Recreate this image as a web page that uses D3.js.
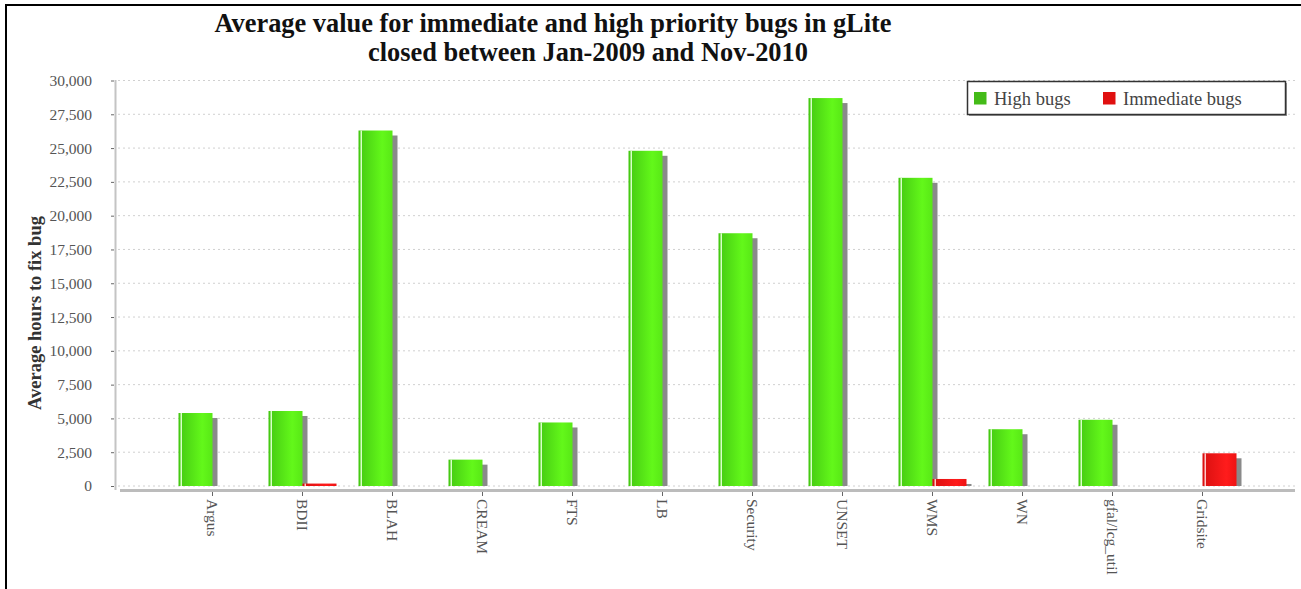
<!DOCTYPE html>
<html>
<head>
<meta charset="utf-8">
<script src="https://cdn.jsdelivr.net/npm/d3@7"></script>
<style>
  body { margin: 0; background: #fff; }
  svg { display: block; font-family: "Liberation Serif", "Times New Roman", serif; }
  .grid line { stroke: #d0d0d0; stroke-dasharray: 2,3; }
  .tick text { fill: #555; font-size: 15.5px; font-family: "Liberation Serif", serif; }
  .tick line { stroke: #666; }
</style>
</head>
<body>
<svg id="chart" width="1301" height="589"></svg>
<script>
var categories = ["Argus", "BDII", "BLAH", "CREAM", "FTS", "LB", "Security", "UNSET", "WMS", "WN", "gfal/lcg_util", "Gridsite"]
var highBugs = [5400, 5550, 26300, 1950, 4700, 24800, 18700, 28700, 22800, 4200, 4900, 0]
var immediateBugs = [0, 180, 0, 0, 0, 0, 0, 0, 520, 0, 0, 2420]
var yTickValues = [0, 2500, 5000, 7500, 10000, 12500, 15000, 17500, 20000, 22500, 25000, 27500, 30000]
var seriesNames = ["High bugs", "Immediate bugs"]

var svg = d3.select('#chart')

var barW = 34
var x = d3.scaleBand().domain(categories).range([167.5, 1247.5])
var y = d3.scaleLinear().domain([0, 30000]).range([486, 80.5])

// frame
svg.append('rect')
  .attr('x', 6).attr('y', 5).attr('width', 1320).attr('height', 620)
  .attr('fill', 'none').attr('stroke', '#000').attr('stroke-width', 2)

///////////////
// GRADIENTS //
///////////////

var defs = svg.append('defs')
function gradient(id, c0, c1, c2){
  var g = defs.append('linearGradient').attr('id', id)
    .attr('x1', 0).attr('x2', 1).attr('y1', 0).attr('y2', 0)
  g.append('stop').attr('offset', '0%').attr('stop-color', c0)
  g.append('stop').attr('offset', '70%').attr('stop-color', c1)
  g.append('stop').attr('offset', '100%').attr('stop-color', c2)
}
gradient('gGreen', '#44c812', '#63f81a', '#58e816')
gradient('gRed', '#d81010', '#ff1c1c', '#ee1414')

////////////
// TITLES //
////////////

svg.append('text')
  .attr('x', 553).attr('y', 32)
  .attr('text-anchor', 'middle')
  .style('font-weight', 'bold').style('font-size', '26.4px').style('fill', '#111')
  .text('Average value for immediate and high priority bugs in gLite')

svg.append('text')
  .attr('x', 588).attr('y', 61)
  .attr('text-anchor', 'middle')
  .style('font-weight', 'bold').style('font-size', '26.4px').style('fill', '#111')
  .text('closed between Jan-2009 and Nov-2010')

svg.append('text')
  .attr('transform', 'translate(41,313) rotate(-90)')
  .attr('text-anchor', 'middle')
  .style('font-weight', 'bold').style('font-size', '18.5px').style('fill', '#333')
  .text('Average hours to fix bug')

//////////
// AXIS //
//////////

svg.append('g').attr('class', 'grid')
  .selectAll('line').data(yTickValues).enter().append('line')
  .attr('x1', 118).attr('x2', 1295)
  .attr('y1', function(d){ return y(d) }).attr('y2', function(d){ return y(d) })

var yAxis = svg.append('g')
  .attr('transform', 'translate(114,0)')
  .call(d3.axisLeft(y).tickValues(yTickValues).tickSize(3).tickPadding(19).tickFormat(d3.format(',')))
yAxis.select('.domain').remove()

svg.append('line')
  .attr('x1', 115.5).attr('x2', 115.5).attr('y1', 80).attr('y2', 490)
  .attr('stroke', '#c4c4c4').attr('stroke-width', 2)

var xAxis = svg.append('g')
  .attr('transform', 'translate(0,492)')
  .call(d3.axisBottom(x).tickSize(4).tickSizeOuter(0))
xAxis.select('.domain').remove()
xAxis.selectAll('text')
  .attr('transform', 'rotate(90)')
  .attr('text-anchor', 'start')
  .attr('x', 7).attr('y', 0).attr('dy', '0.33em')

svg.append('line')
  .attr('x1', 120).attr('x2', 1295).attr('y1', 490.5).attr('y2', 490.5)
  .attr('stroke', '#bcbcbc').attr('stroke-width', 3)

//////////
// BARS //
//////////

var rows = categories.map(function(c, i){
  return [
    {cat: c, value: highBugs[i], dx: -barW, fill: 'url(#gGreen)', hi: '#d8ffc8'},
    {cat: c, value: immediateBugs[i], dx: 0, fill: 'url(#gRed)', hi: '#ffc8c8'}
  ]
})
var bars = d3.merge(rows).filter(function(d){ return d.value > 0 })

function cx(d){ return x(d.cat) + x.bandwidth() / 2 + d.dx }

var barSel = svg.append('g').selectAll('g').data(bars).enter().append('g')

// shadow
barSel.append('rect')
  .attr('x', function(d){ return cx(d) + 5 })
  .attr('y', function(d){ return Math.min(y(d.value) + 5, y(0)) })
  .attr('width', barW)
  .attr('height', function(d){ return Math.max(0, y(0) - y(d.value) - 5) })
  .attr('fill', '#8a8a8a')

barSel.append('rect')
  .attr('x', cx)
  .attr('y', function(d){ return y(d.value) })
  .attr('width', barW)
  .attr('height', function(d){ return y(0) - y(d.value) })
  .attr('fill', function(d){ return d.fill })

// highlight stripe
barSel.append('rect')
  .attr('x', function(d){ return cx(d) + 2 })
  .attr('y', function(d){ return y(d.value) })
  .attr('width', 1.5)
  .attr('height', function(d){ return y(0) - y(d.value) })
  .attr('fill', function(d){ return d.hi })

////////////
// LEGEND //
////////////

svg.append('rect')
  .attr('x', 969).attr('y', 83).attr('width', 318).attr('height', 33)
  .attr('fill', '#999')
svg.append('rect')
  .attr('x', 967.5).attr('y', 81.5).attr('width', 318).attr('height', 33)
  .attr('fill', '#fff').attr('stroke', '#333').attr('stroke-width', 1.5)

var legendX = [974, 1103]
var legendColors = ['#44bb18', '#e01010']
var leg = svg.append('g').selectAll('g').data(seriesNames).enter().append('g')
  .attr('transform', function(d, i){ return 'translate(' + legendX[i] + ',92)' })
leg.append('rect').attr('width', 12.5).attr('height', 12.5)
  .attr('fill', function(d, i){ return legendColors[i] })
leg.append('text')
  .attr('x', 20).attr('y', 13)
  .style('font-size', '18.5px').style('fill', '#444')
  .text(function(d){ return d })
</script>
</body>
</html>
